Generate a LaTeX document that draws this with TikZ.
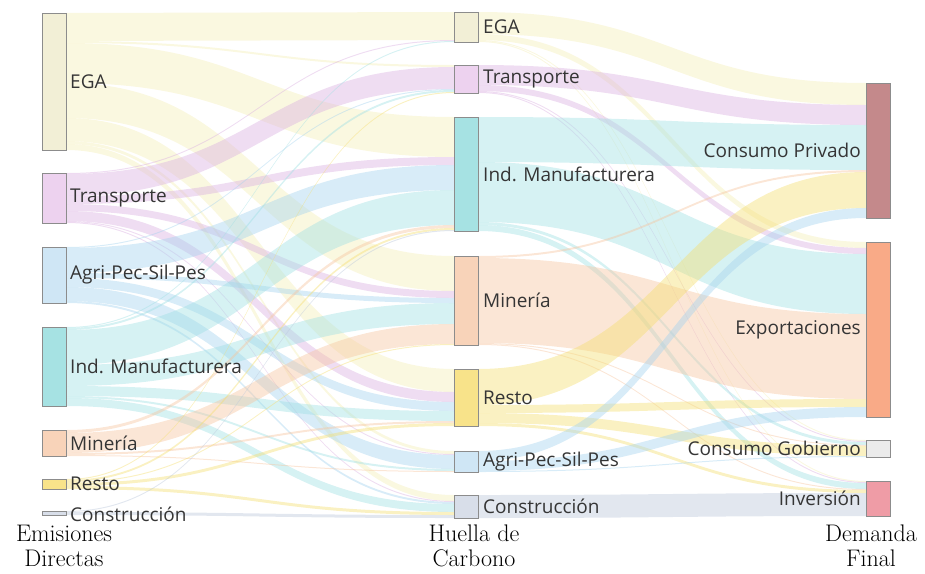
\documentclass[tikz,border=0pt]{standalone}
\usepackage{fontspec}
\newfontfamily\labfont{Open Sans}
\usetikzlibrary{calc}
\definecolor{cEGA}{HTML}{F2EFD6}
\definecolor{cTra}{HTML}{EDD2EF}
\definecolor{cAgr}{HTML}{CFE6F5}
\definecolor{cInd}{HTML}{A6E2E3}
\definecolor{cMin}{HTML}{F8D3B9}
\definecolor{cRes}{HTML}{F8E38A}
\definecolor{cCon}{HTML}{D8DEE9}
\definecolor{cCP}{HTML}{C4898B}
\definecolor{cExp}{HTML}{F9AA87}
\definecolor{cCG}{HTML}{EBEBEB}
\definecolor{cInv}{HTML}{EF9CA6}
\definecolor{fEGA}{HTML}{F4EEB6}
\definecolor{fTra}{HTML}{D9AEE0}
\definecolor{fAgr}{HTML}{A3D2EE}
\definecolor{fInd}{HTML}{9EDFE3}
\definecolor{fMin}{HTML}{F6C49E}
\definecolor{fRes}{HTML}{F4DE6E}
\definecolor{fCon}{HTML}{B9C6DA}
\definecolor{txt}{HTML}{353535}
\tikzset{
  box/.style={draw=black!45, line width=0.7pt, inner sep=0pt, outer sep=0pt, minimum width=24pt, anchor=north west},
  flow/.style={opacity=0.42},
  lab/.style={font=\labfont\fontsize{19}{21}\selectfont, text=txt, inner sep=0pt},
  axis/.style={font=\fontsize{24}{25}\selectfont, align=center, inner sep=0pt}
}
\makeatletter
\newcommand\initoff[1]{\expandafter\gdef\csname so@#1\endcsname{0}\expandafter\gdef\csname ti@#1\endcsname{0}}
\newcommand\sk[4]{%
  \edef\sko{\csname so@#1\endcsname}%
  \edef\ski{\csname ti@#2\endcsname}%
  \fill[flow,#4] let \p1=(#1.north east), \p2=(#2.north west), \n1={(\x1+\x2)/2} in
    (\x1,{\y1-\sko pt}) .. controls ({\n1*1pt},{\y1-\sko pt}) and ({\n1*1pt},{\y2-\ski pt}) .. (\x2,{\y2-\ski pt})
    -- (\x2,{\y2-\ski pt-#3pt}) .. controls ({\n1*1pt},{\y2-\ski pt-#3pt}) and ({\n1*1pt},{\y1-\sko pt-#3pt}) .. (\x1,{\y1-\sko pt-#3pt}) -- cycle;
  \pgfmathsetmacro\skt{\sko+#3}\expandafter\xdef\csname so@#1\endcsname{\skt}%
  \pgfmathsetmacro\skt{\ski+#3}\expandafter\xdef\csname ti@#2\endcsname{\skt}%
}
\makeatother
\begin{document}
\begin{tikzpicture}[x=1pt,y=-1pt]
\useasboundingbox (0,0) rectangle (925,573);
% left column
\node[box, fill=cEGA, minimum height=137pt] (lEGA) at (42,13) {};
\node[box, fill=cTra, minimum height=50pt] (lTra) at (42,173) {};
\node[box, fill=cAgr, minimum height=56pt] (lAgr) at (42,247) {};
\node[box, fill=cInd, minimum height=79pt] (lInd) at (42,327) {};
\node[box, fill=cMin, minimum height=26pt] (lMin) at (42,430) {};
\node[box, fill=cRes, minimum height=10pt] (lRes) at (42,479) {};
\node[box, fill=cCon, minimum height=4pt] (lCon) at (42,511) {};
% middle column
\node[box, fill=cEGA, minimum height=30pt] (mEGA) at (454,12) {};
\node[box, fill=cTra, minimum height=28pt] (mTra) at (454,65) {};
\node[box, fill=cInd, minimum height=114pt] (mInd) at (454,117) {};
\node[box, fill=cMin, minimum height=89pt] (mMin) at (454,256) {};
\node[box, fill=cRes, minimum height=57pt] (mRes) at (454,369) {};
\node[box, fill=cAgr, minimum height=21pt] (mAgr) at (454,451) {};
\node[box, fill=cCon, minimum height=23pt] (mCon) at (454,495) {};
% right column
\node[box, fill=cCP, minimum height=135pt] (rCP) at (866,83) {};
\node[box, fill=cExp, minimum height=175pt] (rExp) at (866,242) {};
\node[box, fill=cCG, minimum height=17pt] (rCG) at (866,440) {};
\node[box, fill=cInv, minimum height=35pt] (rInv) at (866,481) {};
\foreach \n in {lEGA,lTra,lAgr,lInd,lMin,lRes,lCon,mEGA,mTra,mInd,mMin,mRes,mAgr,mCon,rCP,rExp,rCG,rInv}{\initoff{\n}}
% left -> middle
\sk{lEGA}{mEGA}{28}{fEGA}\sk{lEGA}{mTra}{2}{fEGA}\sk{lEGA}{mInd}{40}{fEGA}\sk{lEGA}{mMin}{35}{fEGA}\sk{lEGA}{mRes}{23}{fEGA}\sk{lEGA}{mAgr}{3}{fEGA}\sk{lEGA}{mCon}{6}{fEGA}
\sk{lTra}{mEGA}{1}{fTra}\sk{lTra}{mTra}{22}{fTra}\sk{lTra}{mInd}{8}{fTra}\sk{lTra}{mMin}{7}{fTra}\sk{lTra}{mRes}{10}{fTra}\sk{lTra}{mAgr}{1}{fTra}\sk{lTra}{mCon}{1}{fTra}
\sk{lAgr}{mTra}{1}{fAgr}\sk{lAgr}{mInd}{25}{fAgr}\sk{lAgr}{mMin}{5}{fAgr}\sk{lAgr}{mRes}{9}{fAgr}\sk{lAgr}{mAgr}{14}{fAgr}\sk{lAgr}{mCon}{2}{fAgr}
\sk{lInd}{mEGA}{1}{fInd}\sk{lInd}{mTra}{2}{fInd}\sk{lInd}{mInd}{35}{fInd}\sk{lInd}{mMin}{21}{fInd}\sk{lInd}{mRes}{10}{fInd}\sk{lInd}{mAgr}{2}{fInd}\sk{lInd}{mCon}{8}{fInd}
\sk{lMin}{mInd}{3}{fMin}\sk{lMin}{mMin}{20}{fMin}\sk{lMin}{mRes}{2}{fMin}\sk{lMin}{mAgr}{1}{fMin}
\sk{lRes}{mTra}{1}{fRes}\sk{lRes}{mInd}{2}{fRes}\sk{lRes}{mMin}{1}{fRes}\sk{lRes}{mRes}{3}{fRes}\sk{lRes}{mCon}{3}{fRes}
\sk{lCon}{mInd}{1}{fCon}\sk{lCon}{mCon}{3}{fCon}
% middle -> right
\sk{mEGA}{rCP}{22}{fEGA}\sk{mEGA}{rExp}{6}{fEGA}\sk{mEGA}{rCG}{1}{fEGA}\sk{mEGA}{rInv}{1}{fEGA}
\sk{mTra}{rCP}{20}{fTra}\sk{mTra}{rExp}{6}{fTra}\sk{mTra}{rCG}{1}{fTra}\sk{mTra}{rInv}{1}{fTra}
\sk{mInd}{rCP}{45}{fInd}\sk{mInd}{rExp}{60}{fInd}\sk{mInd}{rCG}{3}{fInd}\sk{mInd}{rInv}{6}{fInd}
\sk{mMin}{rCP}{2}{fMin}\sk{mMin}{rExp}{85}{fMin}\sk{mMin}{rCG}{1}{fMin}\sk{mMin}{rInv}{1}{fMin}
\sk{mRes}{rCP}{36}{fRes}\sk{mRes}{rExp}{8}{fRes}\sk{mRes}{rCG}{10}{fRes}\sk{mRes}{rInv}{3}{fRes}
\sk{mAgr}{rCP}{10}{fAgr}\sk{mAgr}{rExp}{10}{fAgr}\sk{mAgr}{rCG}{1}{fAgr}
\sk{mCon}{rInv}{23}{fCon}
% redraw nodes on top
\foreach \n/\c in {lEGA/cEGA,lTra/cTra,lAgr/cAgr,lInd/cInd,lMin/cMin,lRes/cRes,lCon/cCon,mEGA/cEGA,mTra/cTra,mInd/cInd,mMin/cMin,mRes/cRes,mAgr/cAgr,mCon/cCon,rCP/cCP,rExp/cExp,rCG/cCG,rInv/cInv}
  {\draw[draw=black!45, line width=0.7pt, fill=\c] (\n.north west) rectangle (\n.south east);}
% labels
\node[lab, anchor=west] (tlEGA) at ([xshift=4pt]lEGA.east) {EGA};
\node[lab, anchor=west] (tlTra) at ([xshift=4pt]lTra.east) {Transporte};
\node[lab, anchor=west] (tlAgr) at ([xshift=4pt]lAgr.east) {Agri-Pec-Sil-Pes};
\node[lab, anchor=west] (tlInd) at ([xshift=4pt]lInd.east) {Ind. Manufacturera};
\node[lab, anchor=west] (tlMin) at ([xshift=4pt]lMin.east) {Minería};
\node[lab, anchor=west] (tlRes) at ([xshift=4pt]lRes.east) {Resto};
\node[lab, anchor=west] (tlCon) at ([xshift=4pt,yshift=-1pt]lCon.east) {Construcción};
\node[lab, anchor=west] (tmEGA) at ([xshift=5pt]mEGA.east) {EGA};
\node[lab, anchor=west] (tmTra) at ([xshift=5pt]mTra.east) {Transporte};
\node[lab, anchor=west] (tmInd) at ([xshift=5pt]mInd.east) {Ind. Manufacturera};
\node[lab, anchor=west] (tmMin) at ([xshift=5pt]mMin.east) {Minería};
\node[lab, anchor=west] (tmRes) at ([xshift=5pt]mRes.east) {Resto};
\node[lab, anchor=west] (tmAgr) at ([xshift=5pt]mAgr.east) {Agri-Pec-Sil-Pes};
\node[lab, anchor=west] (tmCon) at ([xshift=5pt]mCon.east) {Construcción};
\node[lab, anchor=east] (trCP) at ([xshift=-5pt]rCP.west) {Consumo Privado};
\node[lab, anchor=east] (trExp) at ([xshift=-5pt]rExp.west) {Exportaciones};
\node[lab, anchor=east] (trCG) at ([xshift=-5pt]rCG.west) {Consumo Gobierno};
\node[lab, anchor=east] (trInv) at ([xshift=-5pt]rInv.west) {Inversión};
% axis titles
\node[axis, anchor=south] (aL) at (64,567) {Emisiones\\Directas};
\node[axis, anchor=south] (aM) at (474,567) {Huella de\\Carbono};
\node[axis, anchor=south] (aR) at (871,567) {Demanda\\Final};
\end{tikzpicture}
\end{document}
